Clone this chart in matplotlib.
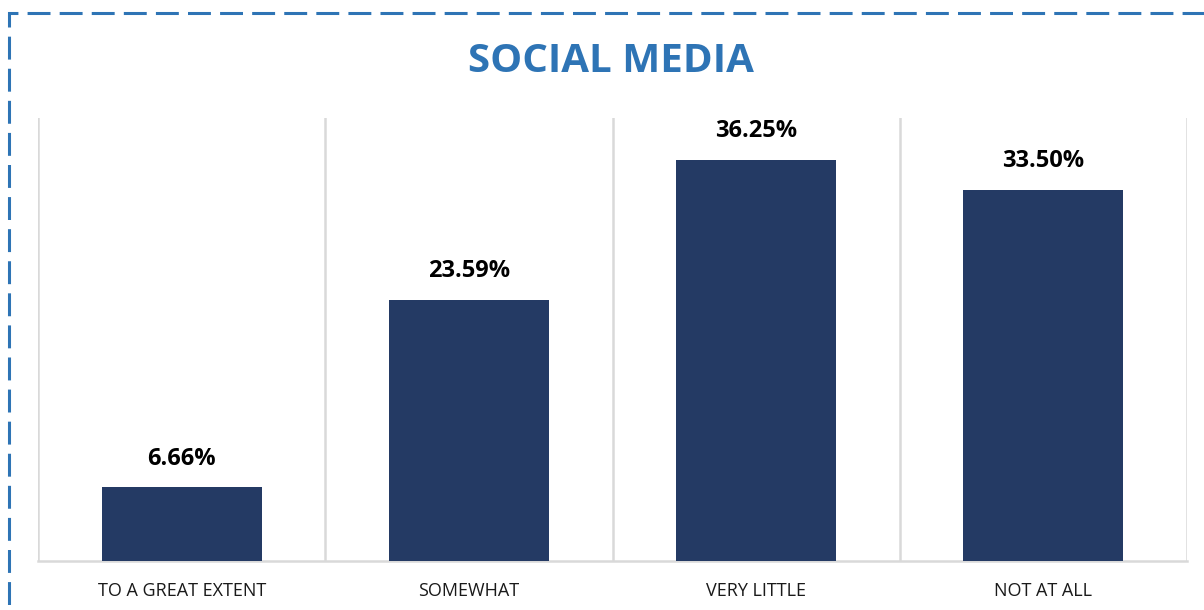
import matplotlib
matplotlib.use("Agg")
import matplotlib.pyplot as plt
from matplotlib.patches import Rectangle

categories = ["TO A GREAT EXTENT", "SOMEWHAT", "VERY LITTLE", "NOT AT ALL"]
values = [6.66, 23.59, 36.25, 33.50]
title = "SOCIAL MEDIA"

plt.rcParams['font.family'] = ['Open Sans', 'DejaVu Sans']

fig = plt.figure(figsize=(12.04, 6.10), dpi=100)
ax = fig.add_axes([38/1204, 49/610, (1187-38)/1204, (561-118)/610])

x = list(range(len(categories)))
ax.bar(x, values, width=0.557, color="#243A64", zorder=3)
for xi, v in zip(x, values):
    ax.annotate(f"{v:.2f}%", (xi, v), xytext=(0, 12), textcoords="offset points",
                ha="center", va="bottom", fontsize=17, fontweight="bold", color="black")

ax.set_xlim(-0.5, len(categories) - 0.5)
ax.set_ylim(0, 40)
ax.set_xticks(x)
ax.set_xticklabels(categories, fontsize=13, color="#1a1a1a")
ax.set_xticks([i - 0.5 for i in range(len(categories) + 1)], minor=True)
ax.tick_params(axis='x', which='both', length=0, pad=15)
ax.set_yticks([])
ax.grid(True, axis='x', which='minor', color="#D9D9D9", linewidth=1.8, zorder=0)
ax.grid(False, axis='x', which='major')
for s in ["top", "right", "left"]:
    ax.spines[s].set_visible(False)
ax.spines["bottom"].set_color("#D9D9D9")
ax.spines["bottom"].set_linewidth(1.8)

fig.text(611/1204, 1 - 61/610, title, ha="center", va="center", fontsize=29,
         fontweight="bold", color="#2E74B5")

border = Rectangle((9/1204, -0.1), 1.2, (1 - 13/610) + 0.1, transform=fig.transFigure,
                   fill=False, edgecolor="#2E74B5", linewidth=2.2,
                   linestyle=(0, (7.5, 3)), clip_on=False)
fig.patches.append(border)

fig.savefig("out.png", dpi=100)
